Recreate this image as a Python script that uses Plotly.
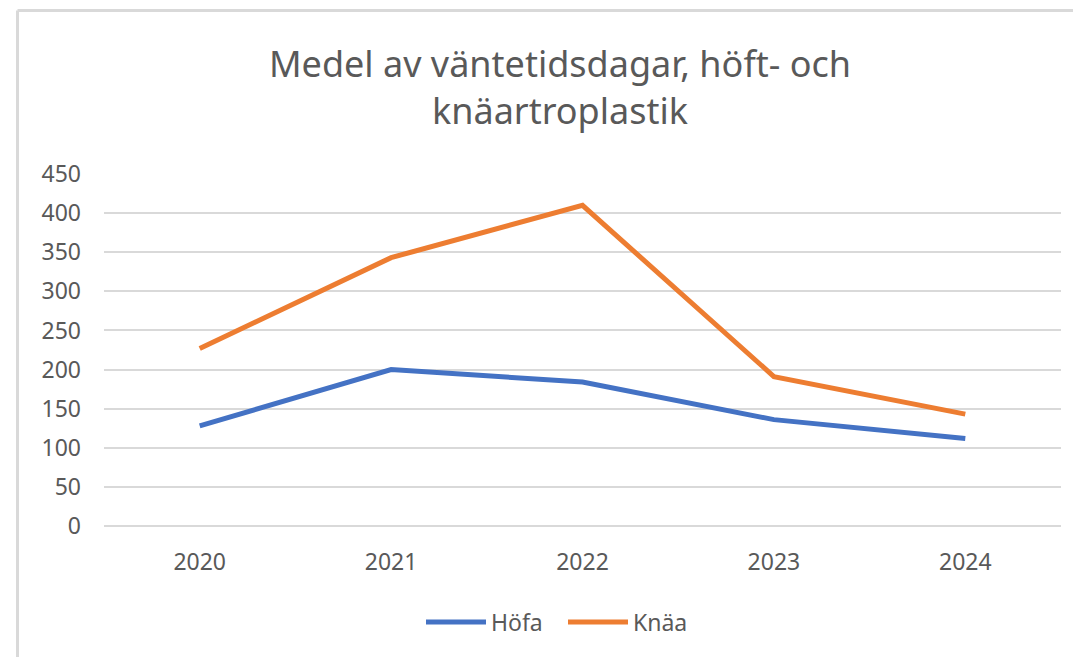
import plotly.graph_objects as go

years = ["2020", "2021", "2022", "2023", "2024"]
hofa = [128, 200, 184, 136, 112]
knaa = [227, 343, 410, 191, 143]
y_ticks = [0, 50, 100, 150, 200, 250, 300, 350, 400, 450]

OFF = 8  # default page body margin
W, H = 1081 - OFF, 657 - OFF
ml = 104 - OFF
mt = 174 - OFF
plot_right = 1061 - OFF
plot_bottom = 526 - OFF
mr = W - plot_right
mb = H - plot_bottom
pw, ph = W - ml - mr, H - mt - mb


def px_x(p):
    return (p - OFF - ml) / pw


def px_y(p):
    return (H - mb - (p - OFF)) / ph


fig = go.Figure()
fig.add_trace(go.Scatter(x=years, y=hofa, name="Höfa", mode="lines",
                         line=dict(color="#4472C4", width=5)))
fig.add_trace(go.Scatter(x=years, y=knaa, name="Knäa", mode="lines",
                         line=dict(color="#ED7D31", width=5)))

border = "#D9D9D9"
fig.add_shape(type="line", xref="paper", yref="paper",
              x0=px_x(17.5), x1=px_x(1095), y0=px_y(10.5), y1=px_y(10.5),
              line=dict(color=border, width=3))
fig.add_shape(type="line", xref="paper", yref="paper",
              x0=px_x(17.5), x1=px_x(17.5), y0=px_y(10.5), y1=px_y(680),
              line=dict(color=border, width=3))

fig.update_layout(
    width=W, height=H,
    margin=dict(l=ml, r=mr, t=mt, b=mb),
    paper_bgcolor="white", plot_bgcolor="white",
    font=dict(family="Noto Sans", color="#595959", size=23),
    title=dict(text="Medel av väntetidsdagar, höft- och<br>knäartroplastik",
               x=(560 - OFF) / W, xanchor="center", y=1 - (77 - OFF) / H, yanchor="middle",
               font=dict(family="Noto Sans", size=36, color="#595959")),
    showlegend=True,
    legend=dict(orientation="h", x=px_x(563), xanchor="center", y=px_y(622), yanchor="middle",
                font=dict(size=23, color="#595959"), itemwidth=60, entrywidth=67),
    xaxis=dict(type="category", range=[-0.5, 4.5], showgrid=False, zeroline=False,
               showline=False, ticks="", ticklabelstandoff=20,
               tickfont=dict(size=23, color="#595959")),
    yaxis=dict(range=[0, 450], tickvals=y_ticks, showgrid=True, gridcolor=border,
               gridwidth=2, zeroline=True, zerolinecolor=border, zerolinewidth=2,
               showline=False, ticks="", ticklabelstandoff=22,
               tickfont=dict(size=23, color="#595959")),
)

fig.write_html("out.html")
